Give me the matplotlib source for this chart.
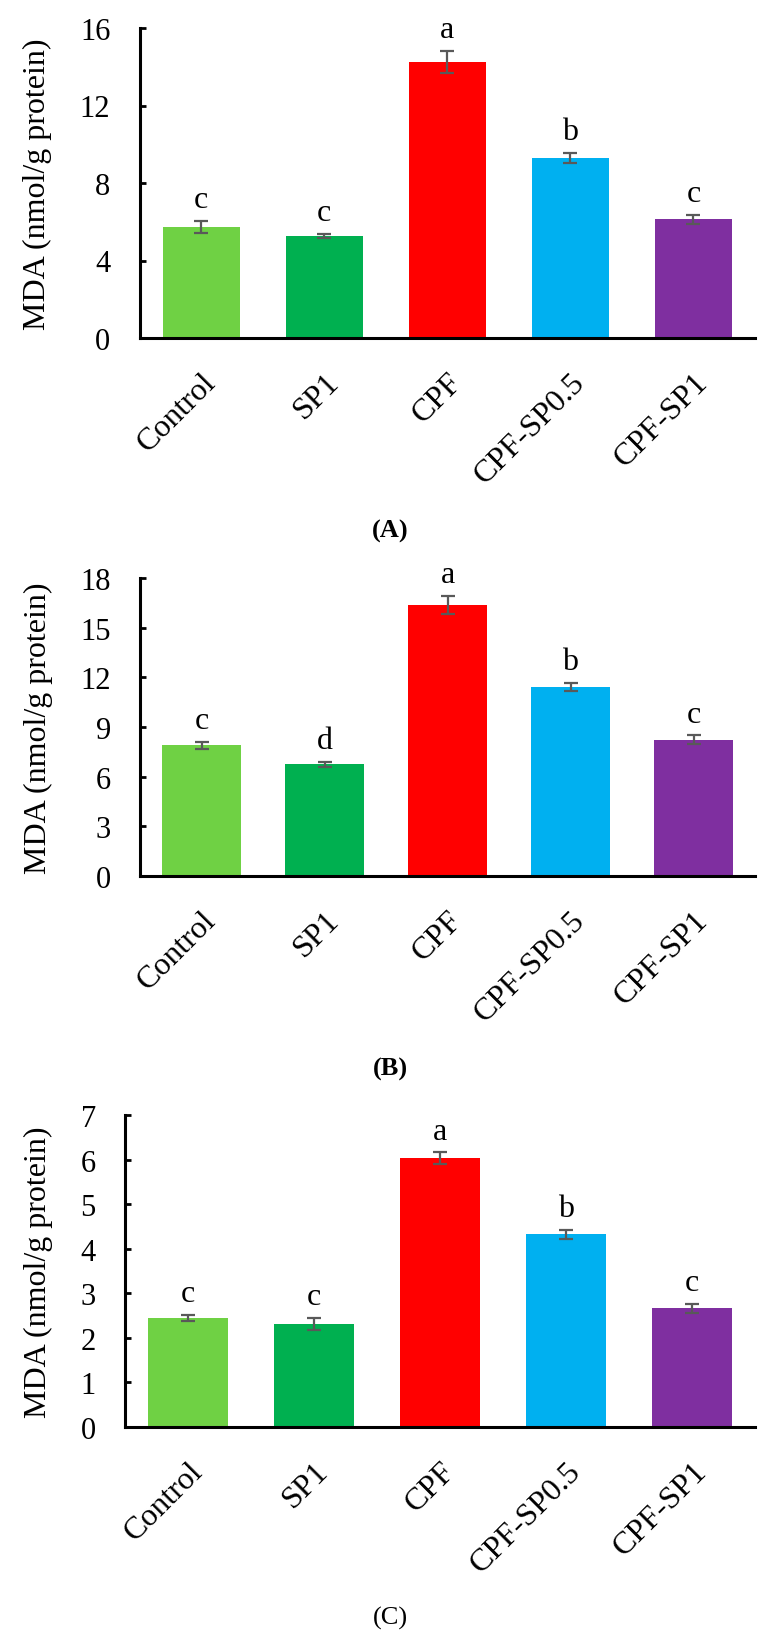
import matplotlib
matplotlib.use('Agg')
import matplotlib.pyplot as plt
import matplotlib.transforms as mtransforms

groups = ['Control', 'SP1', 'CPF', 'CPF-SP0.5', 'CPF-SP1']
colors = ['#6FD144', '#00B050', '#FF0000', '#00B0F0', '#7F2FA0']

mdaA = [5.72, 5.26, 14.25, 9.29, 6.13]
errA = [0.30, 0.12, 0.55, 0.28, 0.24]
letA = ['c', 'c', 'a', 'b', 'c']

mdaB = [7.89, 6.75, 16.35, 11.42, 8.23]
errB = [0.22, 0.15, 0.54, 0.22, 0.26]
letB = ['c', 'd', 'a', 'b', 'c']

mdaC = [2.44, 2.31, 6.03, 4.32, 2.66]
errC = [0.07, 0.13, 0.13, 0.10, 0.11]
letC = ['c', 'c', 'a', 'b', 'c']

plt.rcParams['font.family'] = ['Liberation Serif', 'DejaVu Serif']


def panel(fig, ax, vals, errs, letters, ymax, step, width):
    x = range(len(groups))
    ax.bar(x, vals, width=width, color=colors, zorder=2)
    ax.errorbar(x, vals, yerr=errs, fmt='none', ecolor='#595959',
                elinewidth=1.6, capsize=5, capthick=1.6, zorder=3)
    for i, (v, e, l) in enumerate(zip(vals, errs, letters)):
        ax.annotate(l, (i, v + e), xytext=(0, 10), textcoords='offset points',
                    ha='center', va='baseline', fontsize=23)
    ax.set_xlim(-0.5, len(groups) - 0.5)
    ax.set_ylim(0, ymax)
    ax.set_yticks([t * step for t in range(int(round(ymax / step)) + 1)])
    ax.set_xticks(list(x))
    ax.set_xticklabels(groups, rotation=45, ha='right', va='top',
                       rotation_mode='anchor', fontsize=23)
    # nudge labels a bit to the right like the original
    shift = mtransforms.ScaledTranslation(7 / 100, 0, fig.dpi_scale_trans)
    for lab in ax.get_xticklabels():
        lab.set_transform(lab.get_transform() + shift)
    ax.tick_params(axis='x', length=0, pad=21)
    ax.tick_params(axis='y', labelsize=22, width=2, length=4, direction='in', pad=21)
    ax.spines['top'].set_visible(False)
    ax.spines['right'].set_visible(False)
    ax.spines['left'].set_linewidth(2.2)
    ax.spines['bottom'].set_linewidth(2.2)
    ax.set_ylabel('MDA (nmol/g protein)', fontsize=23, labelpad=20)


fig = plt.figure(figsize=(7.82, 16.4), dpi=100)
W, H = 782, 1640

axA = fig.add_axes([139.5 / W, 1 - 339 / H, 615.5 / W, 310 / H])
panel(fig, axA, mdaA, errA, letA, 16, 4, 0.625)

axB = fig.add_axes([140 / W, 1 - 877 / H, 615 / W, 298 / H])
panel(fig, axB, mdaB, errB, letB, 18, 3, 0.64)

axC = fig.add_axes([125 / W, 1 - 1428 / H, 630 / W, 312 / H])
panel(fig, axC, mdaC, errC, letC, 7, 1, 0.64)

fig.text(390 / W, 1 - 531 / H, '(A)', ha='center', va='center',
         fontsize=19, fontweight='bold')
fig.text(390 / W, 1 - 1069 / H, '(B)', ha='center', va='center',
         fontsize=19, fontweight='bold')
fig.text(390 / W, 1 - 1618 / H, '(C)', ha='center', va='center',
         fontsize=19)

fig.savefig('out.png', dpi=100)
